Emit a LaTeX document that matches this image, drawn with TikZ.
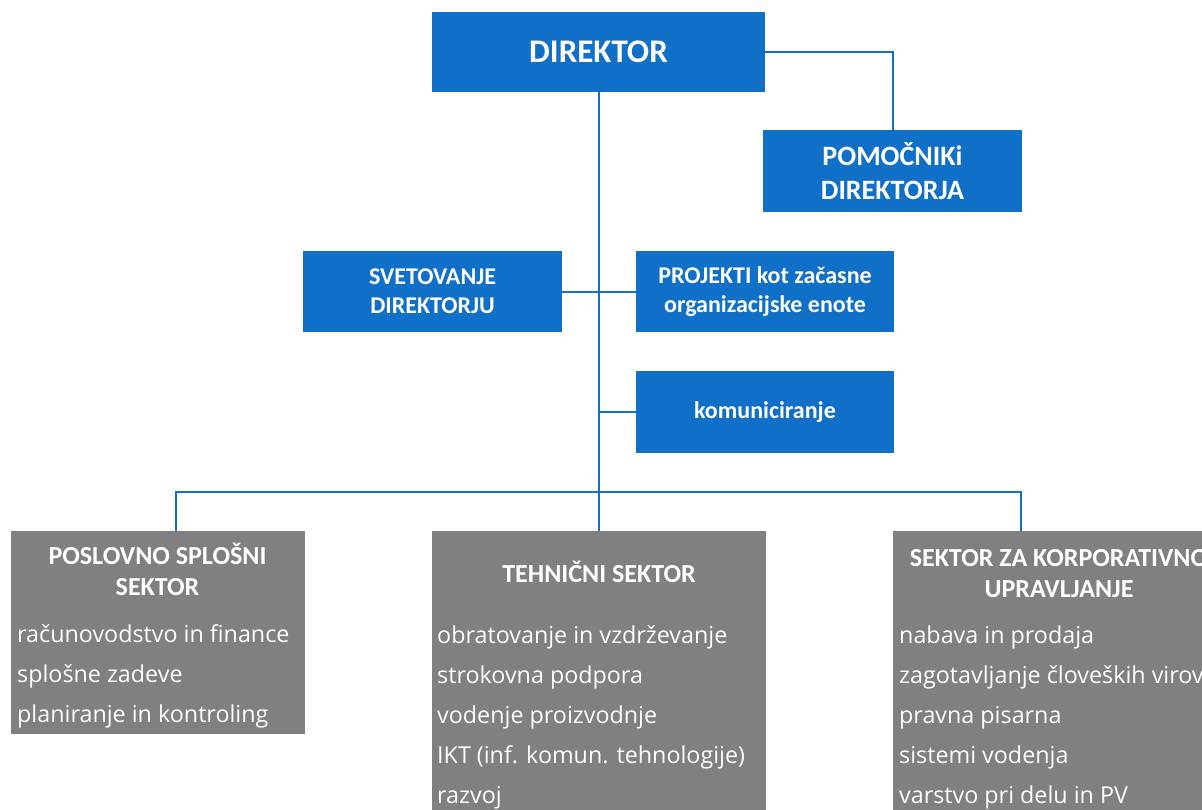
\documentclass[tikz,border=0pt]{standalone}
\usepackage{fontspec}
\setmainfont{Carlito}
\newfontfamily\bodyfont{Open Sans}
\usepackage{tikz}
\definecolor{boxblue}{RGB}{16,111,198}
\definecolor{boxgray}{RGB}{128,128,128}

\begin{document}
\begin{tikzpicture}[x = 1pt, y = -1pt,
	bluebox/.style = {fill = boxblue, text = white, align = center, inner sep = 0pt, font = \bfseries\fontsize{24}{29}\selectfont},
	graybox/.style = {fill = boxgray, inner sep = 0pt},
	head/.style = {text = white, align = center, inner sep = 0pt, anchor = base, font = \bfseries\fontsize{26}{31}\selectfont},
	item/.style = {text = white, inner sep = 0pt, anchor = base west, font = \bodyfont\fontsize{23.3}{26}\selectfont},
	link/.style = {draw = boxblue, line width = 2pt}]
	\useasboundingbox (0,0) rectangle (1202,809);
	\clip (0,0) rectangle (1202,809);
	
	% top
	\node [bluebox, minimum width = 333pt, minimum height = 80pt, font = \bfseries\fontsize{33}{36}\selectfont] (dir) at (598.5,52) {DIREKTOR};
	\node [bluebox, minimum width = 259pt, minimum height = 82pt, font = \bfseries\fontsize{28}{34}\selectfont] (pom) at (892.5,171) {POMOČNIKi\\DIREKTORJA};
	\node [bluebox, minimum width = 259pt, minimum height = 81pt] (svet) at (432.5,291.5) {SVETOVANJE\\DIREKTORJU};
	\node [bluebox, minimum width = 258pt, minimum height = 81pt] (proj) at (765,291.5) {PROJEKTI kot začasne\\organizacijske enote};
	\node [bluebox, minimum width = 258pt, minimum height = 82pt] (kom) at (765,412) {komuniciranje};
	
	% sectors
	\node [graybox, minimum width = 294pt, minimum height = 203pt] (posl) at (158,632.5) {};
	\node [graybox, minimum width = 334pt, minimum height = 330pt] (teh) at (599,696) {};
	\node [graybox, minimum width = 334pt, minimum height = 330pt] (korp) at (1060,696) {};
	
	\node [head] (poslH) at (157.5,595.5) {POSLOVNO SPLOŠNI\\SEKTOR};
	\node [head] (tehH) at (599,582.5) {TEHNIČNI SEKTOR};
	\node [head] (korpH) at (1059,597.5) {SEKTOR ZA KORPORATIVNO\\UPRAVLJANJE};
	
	\foreach \t [count = \i from 0] in {računovodstvo in finance, splošne zadeve, planiranje in kontroling}
		\node [item] (posl\i) at (17,642+40*\i) {\t};
	\foreach \t [count = \i from 0] in {obratovanje in vzdrževanje, strokovna podpora, vodenje proizvodnje, IKT (inf. komun. tehnologije), razvoj}
		\node [item] (teh\i) at (437,643+40*\i) {\t};
	\foreach \t [count = \i from 0] in {nabava in prodaja, zagotavljanje človeških virov, pravna pisarna, sistemi vodenja, varstvo pri delu in PV}
		\node [item] (korp\i) at (899,643+40*\i) {\t};
	
	% lines
	\coordinate (busL) at (176,491.5);
	\coordinate (busR) at (1021,491.5);
	\draw [link] (dir.south) -- (dir.south |- teh.north);
	\draw [link] (dir.east) -| (pom.north);
	\draw [link] (svet.east) -- (proj.west);
	\draw [link] (kom.west) -- (kom.west -| dir.south);
	\draw [link] (busL |- posl.north) -- (busL) -- (busR) -- (busR |- korp.north);
\end{tikzpicture}
\end{document}
